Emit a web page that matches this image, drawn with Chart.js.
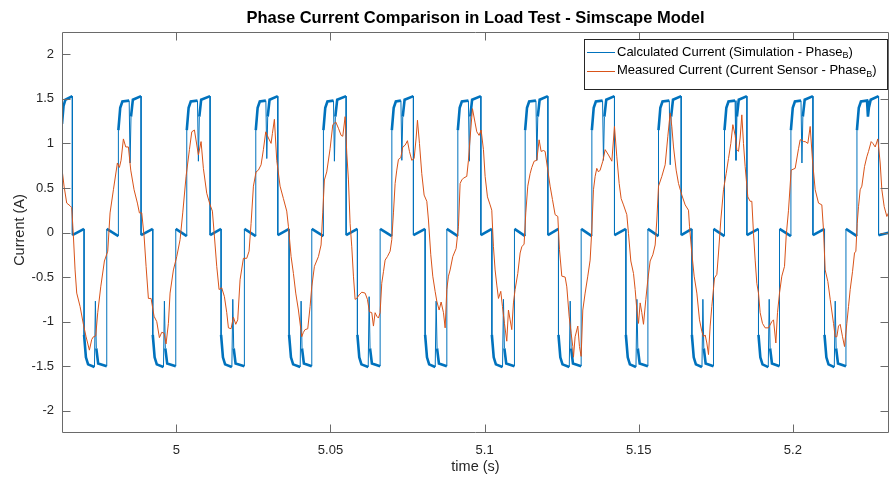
<!DOCTYPE html>
<html>
<head>
<meta charset="utf-8">
<title>Phase Current Comparison in Load Test - Simscape Model</title>
<script src="https://cdn.jsdelivr.net/npm/chart.js@4.4.1/dist/chart.umd.min.js"></script>
<style>
  html, body { margin: 0; padding: 0; background: #ffffff; }
  canvas { display: block; }
</style>
</head>
<body>
<canvas id="plot" width="890" height="479"></canvas>
<script>
// Axis ranges and tick labels (time in s, current in A)
const xRange = [4.9629, 5.2312];
const yRange = [-2.25, 2.25];
const xTickValues = [5, 5.05, 5.1, 5.15, 5.2];
const xTickLabels = ['5', '5.05', '5.1', '5.15', '5.2'];
const yTickValues = [-2, -1.5, -1, -0.5, 0, 0.5, 1, 1.5, 2];
const yTickLabels = ['-2', '-1.5', '-1', '-0.5', '0', '0.5', '1', '1.5', '2'];

// Calculated phase-B current from the Simscape model: time (s)
const simTime = [
  4.96290, 4.96340, 4.96400, 4.96626, 4.96626, 4.97006, 4.97006, 4.97066, 4.97136, 4.97343, 4.97373, 4.97403, 4.97463, 4.97742, 4.97742,
  4.98119, 4.98119, 4.98179, 4.98249, 4.98469, 4.98499, 4.98529, 4.98589, 4.98855, 4.98855, 4.99235, 4.99235, 4.99295, 4.99365, 4.99582, 4.99612, 4.99642, 4.99702, 4.99981, 4.99981,
  5.00338, 5.00338, 5.00398, 5.00468, 5.00685, 5.00715, 5.00745, 5.00805, 5.01095, 5.01095, 5.01451, 5.01451, 5.01511, 5.01581, 5.01801, 5.01831, 5.01861, 5.01921, 5.02207, 5.02207,
  5.02577, 5.02577, 5.02637, 5.02707, 5.02904, 5.02934, 5.02964, 5.03024, 5.03291, 5.03291, 5.03658, 5.03658, 5.03718, 5.03788, 5.04017, 5.04047, 5.04077, 5.04137, 5.04394, 5.04394,
  5.04771, 5.04771, 5.04831, 5.04901, 5.05098, 5.05128, 5.05158, 5.05218, 5.05508, 5.05508, 5.05874, 5.05874, 5.05934, 5.06004, 5.06224, 5.06254, 5.06284, 5.06344, 5.06611, 5.06611,
  5.06991, 5.06991, 5.07051, 5.07121, 5.07285, 5.07315, 5.07345, 5.07405, 5.07691, 5.07691, 5.08071, 5.08071, 5.08131, 5.08201, 5.08398, 5.08428, 5.08458, 5.08518, 5.08775, 5.08775,
  5.09132, 5.09132, 5.09192, 5.09262, 5.09475, 5.09505, 5.09535, 5.09595, 5.09879, 5.09879, 5.10236, 5.10236, 5.10296, 5.10366, 5.10582, 5.10612, 5.10642, 5.10702, 5.10969, 5.10969,
  5.11316, 5.11316, 5.11376, 5.11446, 5.11666, 5.11696, 5.11726, 5.11786, 5.12053, 5.12053, 5.12397, 5.12397, 5.12457, 5.12527, 5.12747, 5.12777, 5.12807, 5.12867, 5.13133, 5.13133,
  5.13480, 5.13480, 5.13540, 5.13610, 5.13827, 5.13857, 5.13887, 5.13947, 5.14214, 5.14214, 5.14584, 5.14584, 5.14644, 5.14714, 5.14911, 5.14941, 5.14971, 5.15031, 5.15298, 5.15298,
  5.15642, 5.15642, 5.15702, 5.15772, 5.15992, 5.16022, 5.16052, 5.16112, 5.16378, 5.16378, 5.16725, 5.16725, 5.16785, 5.16855, 5.17052, 5.17082, 5.17112, 5.17172, 5.17426, 5.17426,
  5.17783, 5.17783, 5.17843, 5.17913, 5.18126, 5.18156, 5.18186, 5.18246, 5.18510, 5.18510, 5.18886, 5.18886, 5.18946, 5.19016, 5.19203, 5.19233, 5.19263, 5.19323, 5.19568, 5.19568,
  5.19938, 5.19938, 5.19998, 5.20068, 5.20265, 5.20295, 5.20325, 5.20385, 5.20652, 5.20652, 5.21028, 5.21028, 5.21088, 5.21158, 5.21345, 5.21375, 5.21405, 5.21465, 5.21723, 5.21723,
  5.22080, 5.22080, 5.22140, 5.22210, 5.22407, 5.22437, 5.22467, 5.22527, 5.22781, 5.22781, 5.23130
];
// Calculated phase-B current (A)
const simCurrent = [
  1.22, 1.42, 1.49, 1.53, -0.03, 0.04, -1.15, -1.40, -1.48, -1.51, -0.77, -1.30, -1.47, -1.50, 0.04,
  -0.04, 1.15, 1.40, 1.47, 1.48, 0.78, 1.30, 1.49, 1.53, -0.03, 0.04, -1.15, -1.40, -1.48, -1.51, -0.77, -1.30, -1.47, -1.50, 0.04,
  -0.04, 1.15, 1.40, 1.47, 1.48, 0.80, 1.30, 1.49, 1.53, -0.03, 0.04, -1.15, -1.40, -1.48, -1.51, -0.75, -1.30, -1.47, -1.50, 0.04,
  -0.04, 1.15, 1.40, 1.47, 1.48, 0.83, 1.30, 1.49, 1.53, -0.03, 0.04, -1.15, -1.40, -1.48, -1.51, -0.77, -1.30, -1.47, -1.50, 0.04,
  -0.04, 1.15, 1.40, 1.47, 1.48, 0.80, 1.30, 1.49, 1.53, -0.03, 0.04, -1.15, -1.40, -1.48, -1.51, -0.72, -1.30, -1.47, -1.50, 0.04,
  -0.04, 1.15, 1.40, 1.47, 1.48, 0.81, 1.30, 1.49, 1.53, -0.03, 0.04, -1.15, -1.40, -1.48, -1.51, -0.77, -1.30, -1.47, -1.50, 0.04,
  -0.04, 1.15, 1.40, 1.47, 1.48, 0.80, 1.30, 1.49, 1.53, -0.03, 0.04, -1.15, -1.40, -1.48, -1.51, -0.75, -1.30, -1.47, -1.50, 0.04,
  -0.04, 1.15, 1.40, 1.47, 1.48, 0.81, 1.30, 1.49, 1.53, -0.03, 0.04, -1.15, -1.40, -1.48, -1.51, -0.77, -1.30, -1.47, -1.50, 0.04,
  -0.04, 1.15, 1.40, 1.47, 1.48, 0.81, 1.30, 1.49, 1.53, -0.03, 0.04, -1.15, -1.40, -1.48, -1.51, -0.75, -1.30, -1.47, -1.50, 0.04,
  -0.04, 1.15, 1.40, 1.47, 1.48, 0.76, 1.30, 1.49, 1.53, -0.03, 0.04, -1.15, -1.40, -1.48, -1.51, -0.75, -1.30, -1.47, -1.50, 0.04,
  -0.04, 1.15, 1.40, 1.47, 1.48, 0.81, 1.30, 1.49, 1.53, -0.03, 0.04, -1.15, -1.40, -1.48, -1.51, -0.75, -1.30, -1.47, -1.50, 0.04,
  -0.04, 1.15, 1.40, 1.47, 1.48, 0.78, 1.30, 1.49, 1.53, -0.03, 0.04, -1.15, -1.40, -1.48, -1.51, -0.77, -1.30, -1.47, -1.50, 0.04,
  -0.04, 1.15, 1.40, 1.47, 1.48, 1.30, 1.40, 1.49, 1.53, -0.03, 0.00
];

// Measured phase-B current from the current sensor: time (s)
const measTime = [
  4.96281, 4.96357, 4.96443, 4.96551, 4.96606, 4.96660, 4.96714, 4.96768, 4.96876, 4.96984, 4.97071, 4.97179, 4.97255, 4.97309, 4.97384, 4.97449, 4.97547, 4.97666, 4.97774, 4.97849,
  4.97958, 4.98087, 4.98152, 4.98206, 4.98282, 4.98358, 4.98444, 4.98520, 4.98628, 4.98736, 4.98801, 4.98877, 4.98953, 4.99018, 4.99093, 4.99180, 4.99277, 4.99364, 4.99450, 4.99526,
  4.99602, 4.99666, 4.99742, 4.99796, 4.99904, 5.00013, 5.00121, 5.00207, 5.00315, 5.00424, 5.00500, 5.00586,
  5.00715, 5.00802, 5.00877, 5.00986, 5.01094, 5.01169, 5.01234, 5.01310, 5.01386, 5.01472, 5.01559, 5.01635, 5.01689, 5.01775, 5.01851, 5.01927, 5.01991, 5.02067, 5.02175, 5.02283,
  5.02359, 5.02424, 5.02500, 5.02586, 5.02662, 5.02749, 5.02824, 5.02900, 5.02987, 5.03073, 5.03116, 5.03181, 5.03257, 5.03365, 5.03473, 5.03581, 5.03635, 5.03722, 5.03798, 5.03873,
  5.03960, 5.04068, 5.04122, 5.04176, 5.04263, 5.04339, 5.04393, 5.04479, 5.04609, 5.04695, 5.04749, 5.04803, 5.04879,
  5.04988, 5.05075, 5.05172, 5.05258, 5.05345, 5.05399, 5.05475, 5.05529, 5.05583, 5.05637, 5.05691, 5.05745, 5.05799, 5.05853, 5.05929, 5.06016, 5.06124, 5.06199, 5.06264, 5.06340,
  5.06394, 5.06448, 5.06502, 5.06556, 5.06610, 5.06664, 5.06719, 5.06773, 5.06848, 5.06935, 5.06989, 5.07043, 5.07097, 5.07151, 5.07205, 5.07281, 5.07346, 5.07422, 5.07497, 5.07562,
  5.07638, 5.07714, 5.07779, 5.07822, 5.07887, 5.07962, 5.08038, 5.08125, 5.08179, 5.08254, 5.08319, 5.08395, 5.08449, 5.08525, 5.08590, 5.08666, 5.08720, 5.08774, 5.08828, 5.08882,
  5.08968, 5.09076, 5.09152, 5.09206, 5.09260, 5.09314,
  5.09422, 5.09476, 5.09530, 5.09606, 5.09692, 5.09747, 5.09822, 5.09887, 5.09963, 5.10017, 5.10093, 5.10179, 5.10233, 5.10287, 5.10341, 5.10396, 5.10450, 5.10525, 5.10579, 5.10644,
  5.10720, 5.10774, 5.10828, 5.10882, 5.10936, 5.10990, 5.11077, 5.11153, 5.11207, 5.11282, 5.11336, 5.11401, 5.11477, 5.11531, 5.11607, 5.11693, 5.11769, 5.11834, 5.11910, 5.11964,
  5.12050, 5.12126, 5.12202, 5.12288, 5.12375, 5.12429, 5.12505, 5.12613, 5.12667, 5.12743, 5.12807, 5.12862, 5.12883, 5.12937, 5.13024, 5.13078, 5.13132, 5.13186, 5.13262, 5.13348,
  5.13424, 5.13478, 5.13532, 5.13586, 5.13640, 5.13694,
  5.13749, 5.13835, 5.13911, 5.14019, 5.14128, 5.14214, 5.14290, 5.14366, 5.14430, 5.14506, 5.14614, 5.14668, 5.14744, 5.14831, 5.14885, 5.14939, 5.14993, 5.15047, 5.15101, 5.15155,
  5.15231, 5.15296, 5.15371, 5.15458, 5.15534, 5.15588, 5.15642, 5.15750, 5.15858, 5.15945, 5.16020, 5.16074, 5.16129, 5.16215, 5.16291, 5.16399, 5.16507, 5.16615, 5.16648, 5.16723,
  5.16799, 5.16886, 5.16972, 5.17048, 5.17102, 5.17156, 5.17210, 5.17264, 5.17318, 5.17372, 5.17459, 5.17535, 5.17589, 5.17664, 5.17751, 5.17837, 5.17913, 5.17989, 5.18054,
  5.18129, 5.18183, 5.18237, 5.18291, 5.18345, 5.18399, 5.18453, 5.18540, 5.18616, 5.18670, 5.18724, 5.18778, 5.18832, 5.18886, 5.18940, 5.19016, 5.19102, 5.19211, 5.19319, 5.19373,
  5.19449, 5.19503, 5.19568, 5.19643, 5.19730, 5.19784, 5.19860, 5.19946, 5.20076, 5.20184, 5.20238, 5.20292, 5.20346, 5.20400, 5.20487, 5.20563, 5.20638, 5.20725, 5.20833, 5.20941,
  5.20995, 5.21049, 5.21136, 5.21212, 5.21320, 5.21374, 5.21428, 5.21482, 5.21536, 5.21612, 5.21677, 5.21752, 5.21807, 5.21861, 5.21936, 5.22001, 5.22045, 5.22088, 5.22131, 5.22185,
  5.22239, 5.22326, 5.22401, 5.22455, 5.22542, 5.22596, 5.22672, 5.22758, 5.22834, 5.22888, 5.22964, 5.23050, 5.23104, 5.23158
];
// Measured phase-B current (A)
const measCurrent = [
  0.74, 0.52, 0.33, 0.30, 0.28, -0.04, -0.42, -0.68, -0.83, -1.03, -1.17, -1.32, -1.20, -1.17, -1.16, -0.90, -0.61, -0.32, -0.21, 0.22,
  0.48, 0.78, 0.73, 0.81, 1.05, 0.96, 0.96, 0.70, 0.48, 0.33, 0.22, 0.22, -0.04, -0.38, -0.74, -0.74, -0.94, -1.00, -1.18, -1.12,
  -1.13, -1.25, -1.02, -0.68, -0.42, -0.27, -0.08, 0.22, 0.63, 0.93, 1.13, 1.15,
  0.87, 1.02, 0.72, 0.44, 0.31, 0.24, -0.04, -0.38, -0.64, -0.62, -0.72, -0.90, -1.07, -1.08, -0.95, -1.03, -0.98, -0.53, -0.29, -0.29,
  -0.21, 0.10, 0.52, 0.68, 0.70, 0.76, 0.93, 1.13, 1.06, 1.00, 1.11, 1.27, 0.81, 0.52, 0.38, 0.24, 0.07, -0.27, -0.46, -0.68,
  -0.87, -1.17, -1.12, -1.09, -1.08, -0.83, -0.61, -0.38, -0.27, -0.14, 0.22, 0.59, 0.68,
  0.94, 1.21, 1.24, 1.17, 1.09, 1.08, 1.30, 0.89, 0.59, 0.10, -0.16, -0.49, -0.75, -0.74, -0.70, -0.67, -0.68, -0.75, -0.89, -0.90,
  -1.05, -0.90, -0.94, -0.96, -0.90, -0.57, -0.44, -0.31, -0.27, -0.21, -0.08, 0.22, 0.55, 0.70, 0.82, 0.84, 0.96, 0.98, 1.03, 0.91,
  0.81, 0.83, 1.06, 1.26, 1.00, 0.66, 0.42, 0.35, 0.14, -0.25, -0.49, -0.66, -0.77, -0.87, -0.78, -0.90, -1.07, -0.64, -0.49, -0.42,
  -0.27, -0.18, 0.07, 0.55, 0.59, 0.61,
  0.63, 0.81, 1.06, 1.39, 1.23, 1.13, 1.09, 1.15, 0.93, 0.63, 0.40, 0.31, 0.25, -0.16, -0.42, -0.59, -0.74, -0.66, -0.83, -1.02,
  -1.22, -0.87, -0.98, -1.09, -0.79, -0.64, -0.46, -0.23, -0.16, -0.13, 0.22, 0.52, 0.66, 0.73, 0.80, 0.81, 1.04, 0.91, 0.92, 0.91,
  0.70, 0.52, 0.37, 0.20, 0.18, -0.19, -0.49, -0.50, -0.61, -0.94, -1.13, -1.28, -1.40, -1.17, -1.05, -1.28, -1.39, -0.87, -0.68, -0.49,
  -0.31, 0.03, 0.48, 0.63, 0.72, 0.68,
  0.70, 0.80, 0.93, 0.87, 0.80, 1.19, 0.85, 0.55, 0.38, 0.31, 0.20, -0.01, -0.32, -0.46, -0.64, -0.87, -1.02, -0.79, -0.90, -1.03,
  -0.75, -0.53, -0.32, -0.25, -0.14, 0.14, 0.52, 0.63, 0.76, 1.08, 1.34, 1.19, 0.96, 0.70, 0.55, 0.42, 0.31, 0.25, 0.07, -0.23,
  -0.49, -0.68, -0.98, -1.11, -1.17, -1.15, -1.24, -1.37, -1.05, -0.83, -0.51, -0.47, -0.23, 0.14, 0.48, 0.66, 0.83, 1.00, 1.21,
  1.09, 0.93, 0.91, 1.06, 1.32, 1.00, 0.74, 0.40, 0.35, 0.35, -0.01, -0.31, -0.57, -0.68, -0.90, -1.02, -1.07, -1.07, -1.00, -0.98,
  -1.24, -0.90, -0.68, -0.49, -0.38, -0.04, 0.25, 0.70, 0.72, 0.94, 1.04, 1.04, 1.02, 1.02, 1.00, 1.19, 0.81, 0.48, 0.33, 0.31,
  0.03, -0.42, -0.55, -0.75, -1.02, -1.17, -1.17, -1.05, -1.03, -1.17, -1.28, -1.02, -0.83, -0.64, -0.44, -0.23, -0.21, 0.10, 0.29, 0.48,
  0.52, 0.74, 0.85, 0.91, 1.02, 1.00, 0.96, 1.05, 0.78, 0.48, 0.29, 0.18, 0.22, 0.24
];

const seriesLabels = [
  ['Calculated Current (Simulation - Phase', 'B', ')'],
  ['Measured Current (Current Sensor - Phase', 'B', ')']
];
const simColor = '#0072BD';
const measColor = '#D95319';
const axisColor = '#262626';
const fontFamily = '"Liberation Sans", Arial, Helvetica, sans-serif';

const toPoints = (xs, ys) => xs.map((x, i) => ({ x: x, y: ys[i] }));

// Axes box, inward ticks on all four sides, titles and the legend
const decorations = {
  id: 'decorations',
  beforeDraw(chart) {
    const c = chart.ctx;
    c.save();
    c.fillStyle = '#ffffff';
    c.fillRect(0, 0, chart.width, chart.height);
    c.restore();
  },
  afterDraw(chart) {
    const c = chart.ctx;
    const a = chart.chartArea;
    const xs = chart.scales.x, ys = chart.scales.y;
    const L = Math.round(a.left) + 0.5, R = Math.round(a.right) - 0.5;
    const T = Math.round(a.top) + 0.5, B = Math.round(a.bottom) - 0.5;
    const tick = 8;
    c.save();
    c.strokeStyle = '#6a6a6a';
    c.lineWidth = 1;
    c.beginPath();
    c.rect(L, T, R - L, B - T);
    xTickValues.forEach(v => {
      const px = Math.round(xs.getPixelForValue(v)) + 0.5;
      c.moveTo(px, B); c.lineTo(px, B - tick);
      c.moveTo(px, T); c.lineTo(px, T + tick);
    });
    yTickValues.forEach(v => {
      const py = Math.round(ys.getPixelForValue(v)) + 0.5;
      c.moveTo(L, py); c.lineTo(L + tick, py);
      c.moveTo(R, py); c.lineTo(R - tick, py);
    });
    c.stroke();

    // title
    c.fillStyle = '#000000';
    c.font = 'bold 16.5px ' + fontFamily;
    c.textAlign = 'center';
    c.textBaseline = 'middle';
    c.fillText('Phase Current Comparison in Load Test - Simscape Model', (a.left + a.right) / 2, 18);

    // axis titles
    c.fillStyle = axisColor;
    c.font = '14.5px ' + fontFamily;
    c.fillText('time (s)', (a.left + a.right) / 2, 467);
    c.save();
    c.translate(20, 230);
    c.rotate(-Math.PI / 2);
    c.fillText('Current (A)', 0, 0);
    c.restore();

    // legend
    const bx = 584.5, by = 39.5, bw = 303, bh = 50;
    c.fillStyle = '#ffffff';
    c.fillRect(bx, by, bw, bh);
    c.strokeStyle = '#262626';
    c.strokeRect(bx, by, bw, bh);
    const rows = [52, 70.5];
    const colors = [simColor, measColor];
    rows.forEach((ry, i) => {
      c.strokeStyle = colors[i];
      c.lineWidth = 1;
      c.beginPath();
      c.moveTo(587, Math.round(ry) + 0.5);
      c.lineTo(615, Math.round(ry) + 0.5);
      c.stroke();
      const parts = seriesLabels[i];
      c.fillStyle = '#000000';
      c.textAlign = 'left';
      c.textBaseline = 'middle';
      c.font = '13px ' + fontFamily;
      let tx = 617;
      c.fillText(parts[0], tx, ry);
      tx += c.measureText(parts[0]).width;
      c.font = '9px ' + fontFamily;
      c.fillText(parts[1], tx, ry + 4);
      tx += c.measureText(parts[1]).width;
      c.font = '13px ' + fontFamily;
      c.fillText(parts[2], tx, ry);
    });
    c.restore();
  }
};

new Chart(document.getElementById('plot'), {
  type: 'scatter',
  data: {
    datasets: [
      {
        label: seriesLabels[0].join(''),
        data: toPoints(simTime, simCurrent),
        showLine: true,
        borderColor: simColor,
        backgroundColor: simColor,
        borderWidth: 1,
        pointRadius: 0,
        order: 1,
        segment: {
          borderWidth: s => Math.abs(s.p1.parsed.y - s.p0.parsed.y) > 0.3 ? 1 : 2.6
        }
      },
      {
        label: seriesLabels[1].join(''),
        data: toPoints(measTime, measCurrent),
        showLine: true,
        borderColor: measColor,
        backgroundColor: measColor,
        borderWidth: 1,
        pointRadius: 0,
        order: 0
      }
    ]
  },
  options: {
    responsive: false,
    animation: false,
    devicePixelRatio: 1,
    events: [],
    layout: { padding: { left: 0, right: 1, top: 32, bottom: 0 } },
    plugins: {
      legend: { display: false },
      title: { display: false },
      tooltip: { enabled: false }
    },
    scales: {
      x: {
        type: 'linear',
        min: xRange[0],
        max: xRange[1],
        afterBuildTicks: s => { s.ticks = xTickValues.map(v => ({ value: v })); },
        afterFit: s => { s.height = 46; },
        grid: { display: false, drawTicks: false },
        border: { display: false },
        ticks: {
          autoSkip: false,
          maxRotation: 0,
          padding: 10,
          color: axisColor,
          font: { family: fontFamily, size: 13 },
          callback: v => xTickLabels[xTickValues.indexOf(v)]
        }
      },
      y: {
        type: 'linear',
        min: yRange[0],
        max: yRange[1],
        afterBuildTicks: s => { s.ticks = yTickValues.map(v => ({ value: v })); },
        afterFit: s => { s.width = 62; },
        grid: { display: false, drawTicks: false },
        border: { display: false },
        ticks: {
          autoSkip: false,
          padding: 8,
          color: axisColor,
          font: { family: fontFamily, size: 13 },
          callback: v => yTickLabels[yTickValues.indexOf(v)]
        }
      }
    }
  },
  plugins: [decorations]
});
</script>
</body>
</html>
